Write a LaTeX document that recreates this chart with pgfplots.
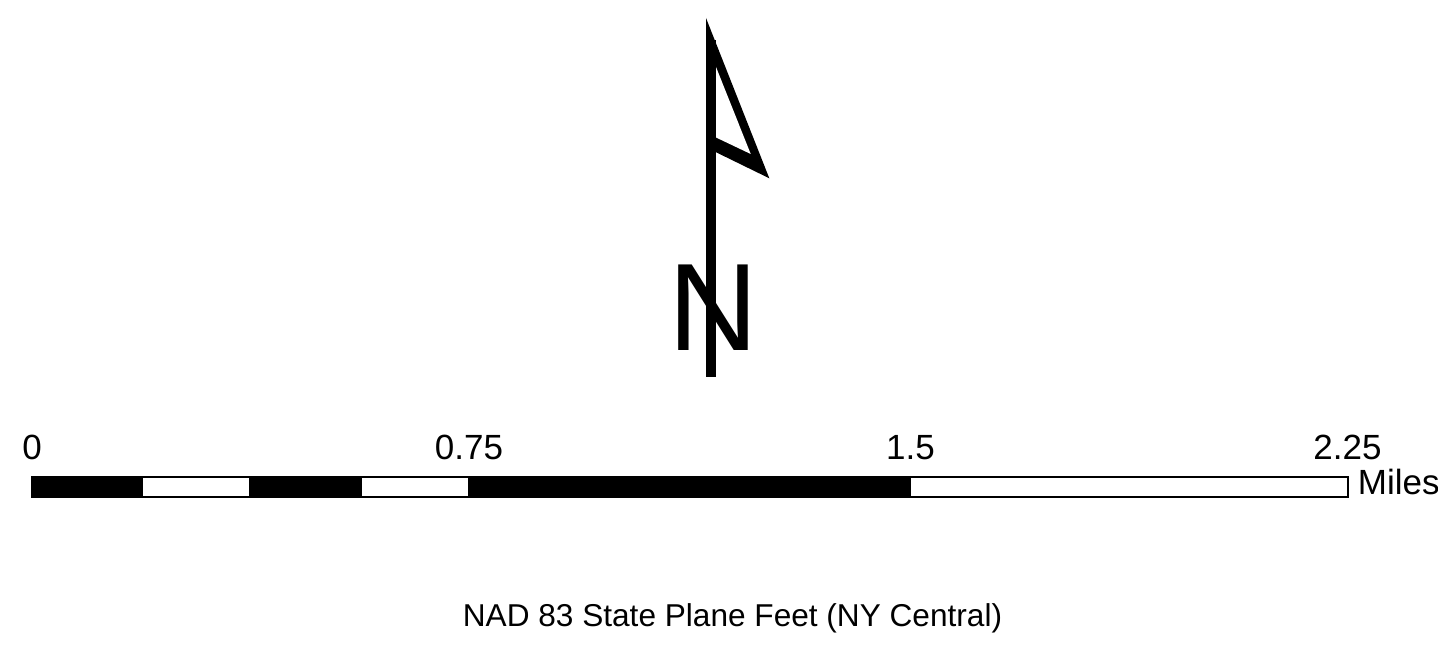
\documentclass[border=0pt]{standalone}
\usepackage{fontspec}
\setmainfont{Liberation Sans}
\usepackage{pgfplots}
\pgfplotsset{compat=1.18}
\begin{document}
\begin{tikzpicture}
\begin{axis}[
  scale only axis, width=719pt, height=328pt,
  xmin=0, xmax=1438, ymin=0, ymax=656, y dir=reverse,
  hide axis, clip=false,
]
% scale bar segments (pixel units; 0 mi at 32, 2.25 mi at 1348)
\addplot[fill=black, draw=black, line width=0.6pt] coordinates {(32,477) (142,477) (142,497) (32,497)} -- cycle;
\addplot[fill=white, draw=black, line width=0.6pt] coordinates {(142,477) (250,477) (250,497) (142,497)} -- cycle;
\addplot[fill=black, draw=black, line width=0.6pt] coordinates {(250,477) (361,477) (361,497) (250,497)} -- cycle;
\addplot[fill=white, draw=black, line width=0.6pt] coordinates {(361,477) (469,477) (469,497) (361,497)} -- cycle;
\addplot[fill=black, draw=black, line width=0.6pt] coordinates {(469,477) (910,477) (910,497) (469,497)} -- cycle;
\addplot[fill=white, draw=black, line width=0.6pt] coordinates {(910,477) (1348,477) (1348,497) (910,497)} -- cycle;
% north arrow flag
\addplot[fill=black, draw=none] coordinates {(706,18) (769.3,178.3) (715.5,152) (706,152)} -- cycle;
\addplot[fill=white, draw=none] coordinates {(716,67) (750.7,154) (716,137.5)} -- cycle;
% stick
\addplot[fill=black, draw=none] coordinates {(706,40) (715.5,40) (715.5,377) (706,377)} -- cycle;
% N
\node[anchor=base, inner sep=0pt, font=\fontsize{62.2}{70}\selectfont] at (axis cs:713,351) {N};
\addplot[fill=black, draw=none] coordinates {(706,250) (715.5,250) (715.5,377) (706,377)} -- cycle;
% labels
\node[anchor=base, inner sep=0pt, font=\fontsize{17.5}{20}\selectfont] at (axis cs:32,459.5) {0};
\node[anchor=base, inner sep=0pt, font=\fontsize{17.5}{20}\selectfont] at (axis cs:469,459.5) {0.75};
\node[anchor=base, inner sep=0pt, font=\fontsize{17.5}{20}\selectfont] at (axis cs:910.5,459.5) {1.5};
\node[anchor=base, inner sep=0pt, font=\fontsize{17.5}{20}\selectfont] at (axis cs:1347.5,459.5) {2.25};
\node[anchor=base west, inner sep=0pt, font=\fontsize{17.5}{20}\selectfont] at (axis cs:1357.5,495) {Miles};
\node[anchor=base, inner sep=0pt, font=\fontsize{15.8}{18}\selectfont] at (axis cs:732.5,626) {NAD 83 State Plane Feet (NY Central)};
\end{axis}
\pgfresetboundingbox
\useasboundingbox (current axis.south west) rectangle (current axis.north east);
\end{tikzpicture}
\end{document}
